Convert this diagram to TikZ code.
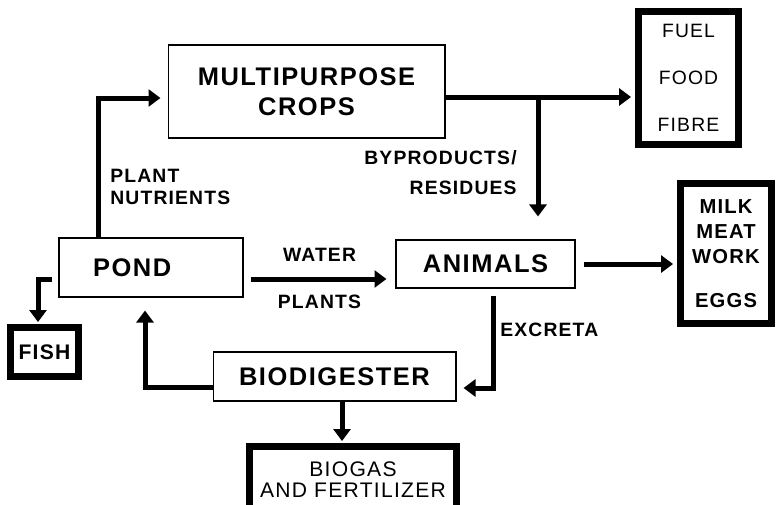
\documentclass[tikz,border=0pt]{standalone}
\usepackage{fontspec}
\setmainfont{Liberation Sans}[LetterSpace=6]
\usetikzlibrary{positioning, calc, arrows.meta}

\begin{document}
\begin{tikzpicture}[
    x=0.02cm, y=-0.02cm,
    unitNode/.style={rectangle, draw, line width=0.6pt, font=\fontsize{14.5}{17}\selectfont\bfseries, align=center},
    outNode/.style={rectangle, draw, line width=0.14cm, align=center},
    labelText/.style={font=\fontsize{11}{13}\selectfont\bfseries, inner sep=0pt},
    flowArrow/.style={line width=0.1cm, -{Triangle[length=0.24cm, width=0.34cm]}}
]
    \useasboundingbox (0,0) rectangle (776,504);

    % Unit nodes
    \node[unitNode, minimum width=5.54cm, minimum height=1.86cm] (crops) at (306.5,91.5) {MULTIPURPOSE\\CROPS};
    \node[unitNode, minimum width=3.68cm, minimum height=1.18cm, text width=2.32cm, inner xsep=0.68cm, align=left] (pond) at (151,267.5) {POND};
    \node[unitNode, minimum width=3.58cm, minimum height=0.96cm] (animals) at (485.5,264) {ANIMALS};
    \node[unitNode, minimum width=4.86cm, minimum height=0.98cm] (biodigester) at (334.5,376.5) {BIODIGESTER};

    % Output nodes
    \node[outNode, minimum width=2cm, minimum height=2.66cm, font=\fontsize{11}{26.6}\selectfont] (fuel) at (688.5,78) {FUEL\\FOOD\\FIBRE};
    \node[outNode, minimum width=1.82cm, minimum height=2.8cm, font=\fontsize{11.5}{14.2}\selectfont\bfseries] (milk) at (726,253.5) {MILK\\MEAT\\WORK\\[10.8pt]EGGS};
    \node[outNode, minimum width=4.14cm, minimum height=1.5cm, font=\fontsize{12}{12}\selectfont] (biogas) at (353,484) {BIOGAS\\AND FERTILIZER\\[-0.25cm]};
    \node[outNode, minimum width=1.36cm, minimum height=0.98cm, font=\fontsize{12}{13}\selectfont\bfseries] (fish) at (44.5,352) {FISH};

    % Flow labels
    \node[labelText, align=left, anchor=west] (nutrients) at (110,187) {PLANT\\NUTRIENTS};
    \node[labelText, align=right, anchor=east, font=\fontsize{11}{17}\selectfont\bfseries] (byproducts) at (517,173) {BYPRODUCTS/\\RESIDUES};
    \node[labelText, anchor=west] (excreta) at (500,330) {EXCRETA};

    % Connection points
    \coordinate (pondTop) at ([xshift=-1.06cm]pond.north);
    \coordinate (cropsIn) at ([yshift=-0.13cm]crops.west);
    \coordinate (cropsOut) at ([yshift=-0.11cm]crops.east);
    \coordinate (split) at (538,97);
    \coordinate (pondOut) at ([yshift=-0.23cm]pond.east);
    \coordinate (animalsOut) at ([xshift=0.15cm]animals.south);
    \coordinate (bioIn) at ([yshift=-0.23cm]biodigester.east);
    \coordinate (bioOut) at ([yshift=-0.21cm]biodigester.west);
    \coordinate (pondIn) at ([xshift=-0.12cm]pond.south);
    \coordinate (pondLeft) at ([yshift=-0.23cm]pond.west);
    \coordinate (fishIn) at ([xshift=-0.13cm]fish.north);
    \coordinate (bioDown) at ([xshift=0.15cm]biodigester.south);

    % Connecting arrows
    \draw[flowArrow, shorten >=0.14cm] (pondTop) |- (cropsIn);
    \draw[flowArrow, shorten >=0.08cm] (cropsOut) -- (cropsOut -| fuel.west);
    \draw[flowArrow, shorten >=0.46cm] (split) -- (split |- animals.north);
    \draw[flowArrow, shorten <=0.14cm, shorten >=0.18cm] (pondOut) -- (pondOut -| animals.west)
        node[labelText, midway, yshift=0.48cm] (water) {WATER}
        node[labelText, midway, yshift=-0.46cm] (plants) {PLANTS};
    \draw[flowArrow, shorten <=0.16cm, shorten >=0.08cm] (animals.east) -- (animals.east -| milk.west);
    \draw[flowArrow, shorten <=0.14cm, shorten >=0.14cm] (animalsOut) |- (bioIn);
    \draw[flowArrow, shorten >=0.26cm] (bioOut) -| (pondIn);
    \draw[flowArrow, shorten <=0.12cm, shorten >=0.04cm] (pondLeft) -| (fishIn);
    \draw[flowArrow, shorten >=0.04cm] (bioDown) -- (bioDown |- biogas.north);

\end{tikzpicture}
\end{document}
